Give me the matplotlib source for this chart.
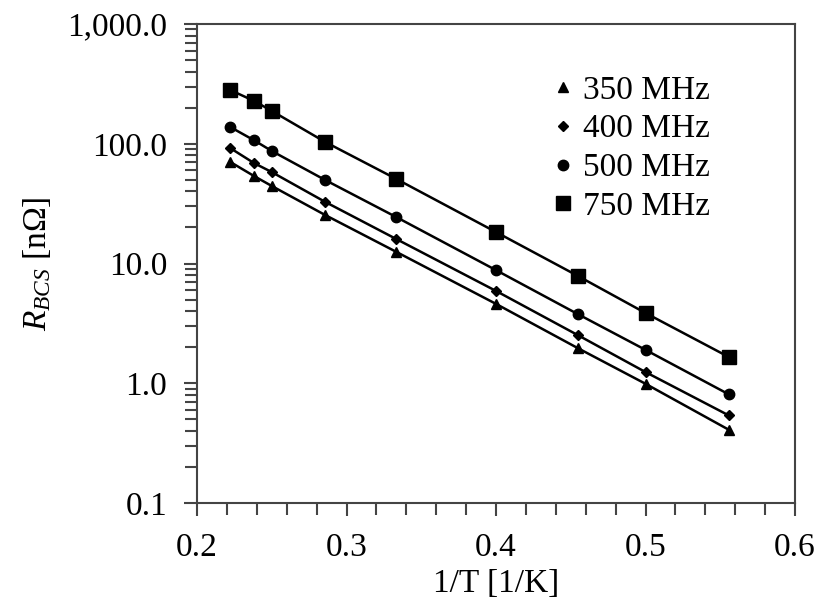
import matplotlib
matplotlib.use("Agg")
import matplotlib.pyplot as plt
from matplotlib.ticker import FuncFormatter, MultipleLocator, LogLocator
import numpy as np

plt.rcParams['font.family'] = ['Liberation Serif', 'DejaVu Serif']
plt.rcParams['mathtext.fontset'] = 'custom'
plt.rcParams['mathtext.rm'] = 'Liberation Serif'
plt.rcParams['mathtext.it'] = 'Liberation Serif:italic'

# 1/T for T = 4.5, 4.2, 4.0, 3.5, 3.0, 2.5, 2.2, 2.0, 1.8 K
inv_t = np.array([1/4.5, 1/4.2, 1/4.0, 1/3.5, 1/3.0, 1/2.5, 1/2.2, 1/2.0, 1/1.8])

r_350 = [70.5, 53.8, 44.4, 25.4, 12.5, 4.6, 1.97, 0.99, 0.41]
r_400 = [92, 69, 58, 32.7, 16.0, 5.9, 2.53, 1.24, 0.54]
r_500 = [138, 107, 87, 49.8, 24.4, 8.8, 3.79, 1.90, 0.81]
r_750 = [281, 228, 188, 103.5, 50.8, 18.3, 7.9, 3.86, 1.66]

labels = ["350 MHz", "400 MHz", "500 MHz", "750 MHz"]
series = [r_350, r_400, r_500, r_750]
markers = ["^", "D", "o", "s"]
sizes = [6.5, 5, 7.5, 9.5]

fig = plt.figure(figsize=(8.32, 6.08), dpi=100)
ax = fig.add_axes([197/832, 1 - 503/608, (795 - 197)/832, (503 - 24)/608])

for y, lab, m, ms in zip(series, labels, markers, sizes):
    ax.plot(inv_t, y, color="black", lw=1.8, zorder=2)
    ax.plot(inv_t, y, ls="none", marker=m, ms=ms, color="black", label=lab, zorder=3)

ax.set_yscale("log")
ax.set_ylim(0.1, 1000)
ax.set_xlim(0.2, 0.6)
ax.xaxis.set_major_locator(MultipleLocator(0.1))
ax.xaxis.set_minor_locator(MultipleLocator(0.02))
ax.yaxis.set_major_locator(LogLocator(base=10))
ax.yaxis.set_minor_locator(LogLocator(base=10, subs=np.arange(2, 10)))
ax.yaxis.set_major_formatter(FuncFormatter(lambda v, p: f"{v:,.1f}"))
ax.xaxis.set_major_formatter(FuncFormatter(lambda v, p: f"{v:.1f}"))

for s in ax.spines.values():
    s.set_color("#444444")
    s.set_linewidth(1.5)
ax.tick_params(which="major", direction="out", length=9.5, width=1.5, color="#444444",
               labelsize=24)
ax.tick_params(which="minor", direction="out", length=8.5, width=1.5, color="#444444")
ax.tick_params(axis="x", which="major", pad=12)
ax.tick_params(axis="y", which="major", pad=12)

ax.set_xlabel("1/T [1/K]", fontsize=24, labelpad=4)
ax.set_ylabel(r"$R_{BCS}$ [n$\Omega$]", fontsize=24, labelpad=10)

ax.legend(loc="upper left", bbox_to_anchor=(0.567, 0.928), frameon=False, fontsize=24,
          handlelength=0.6, handletextpad=0.3, labelspacing=0.25, borderpad=0)

fig.savefig("out.png", dpi=100)
